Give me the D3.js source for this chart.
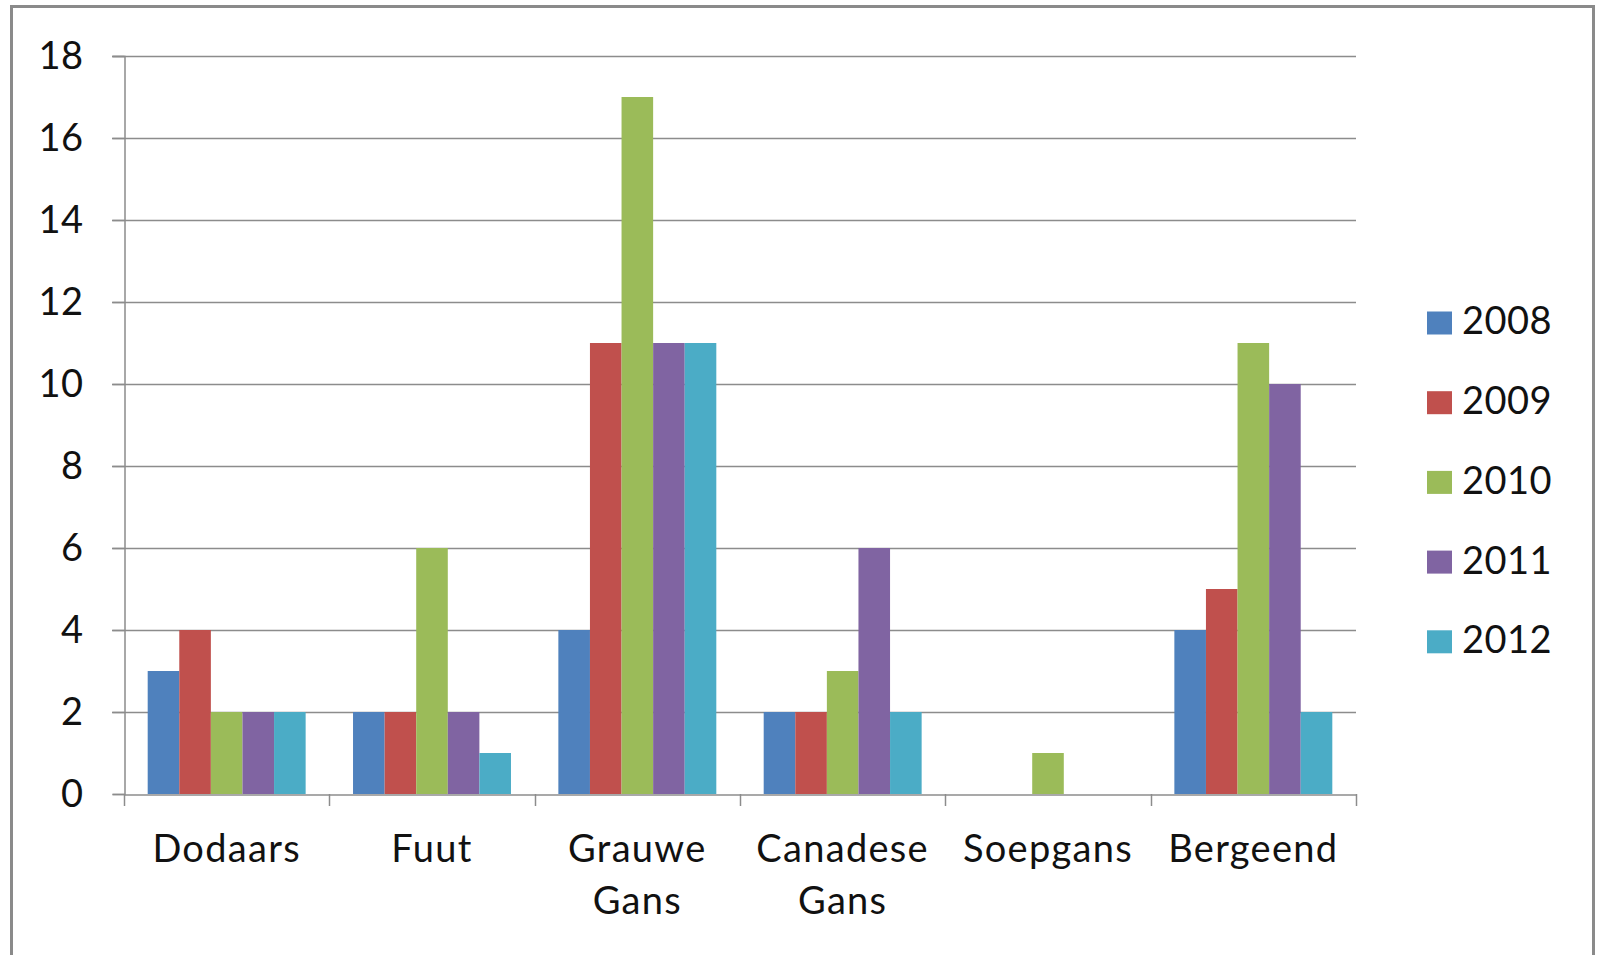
<!DOCTYPE html>
<html><head><meta charset="utf-8">
<script src="https://cdn.jsdelivr.net/npm/d3@7"></script>
<style>html,body{margin:0;padding:0;background:#fff;}svg{display:block;}</style>
</head><body>
<script>
const categories = ["Dodaars", "Fuut", "Grauwe Gans", "Canadese Gans", "Soepgans", "Bergeend"];
const seriesNames = ["2008", "2009", "2010", "2011", "2012"];
const v2008 = [3, 2, 4, 2, 0, 4];
const v2009 = [4, 2, 11, 2, 0, 5];
const v2010 = [2, 6, 17, 3, 1, 11];
const v2011 = [2, 2, 11, 6, 0, 10];
const v2012 = [2, 1, 11, 2, 0, 2];
const seriesValues = [v2008, v2009, v2010, v2011, v2012];
const colors = ["#4F81BD", "#C0504D", "#9BBB59", "#8064A2", "#4BACC6"];
const yTicks = [0, 2, 4, 6, 8, 10, 12, 14, 16, 18];

(function () {
const W = 1604, H = 955;
const font = "Lato, 'Open Sans', sans-serif";
const svg = d3.select("body").append("svg").attr("width", W).attr("height", H);
svg.append("rect").attr("width", W).attr("height", H).attr("fill", "#fff");
svg.append("rect").attr("x", 11.5).attr("y", 6.5).attr("width", 1582).attr("height", 1000)
  .attr("fill", "none").attr("stroke", "#8a8a8a").attr("stroke-width", 3);

const pLeft = 124, pRight = 1356, pTop = 56, pBottom = 794;
const x = d3.scaleBand().domain(categories).range([pLeft, pRight]).paddingInner(0).paddingOuter(0);
const y = d3.scaleLinear().domain([0, 18]).range([pBottom, pTop]);
const bw = x.bandwidth();
const barW = bw / 6.5;
const xs = d3.scaleBand().domain(seriesNames).range([0.75 * barW, bw - 0.75 * barW]).padding(0);

const gridColor = "#8c8c8c";
svg.append("g").selectAll("line").data(yTicks.filter(d => d > 0)).join("line")
  .attr("x1", pLeft - 12).attr("x2", pRight)
  .attr("y1", d => Math.round(y(d)) + 0.5).attr("y2", d => Math.round(y(d)) + 0.5)
  .attr("stroke", gridColor).attr("stroke-width", 1.5);

seriesNames.forEach((s, si) => {
  svg.append("g").selectAll("rect").data(categories).join("rect")
    .attr("x", c => x(c) + xs(s))
    .attr("width", xs.bandwidth())
    .attr("y", (c, i) => y(seriesValues[si][i]))
    .attr("height", (c, i) => y(0) - y(seriesValues[si][i]))
    .attr("fill", colors[si]);
});

const yAxis = d3.axisLeft(y).tickValues(yTicks).tickSize(12).tickPadding(29).tickFormat(d3.format("d"));
const gy = svg.append("g").attr("transform", `translate(${pLeft + 0.5},0)`).call(yAxis);
gy.select(".domain").attr("stroke", gridColor).attr("stroke-width", 1.5);
gy.selectAll(".tick line").attr("stroke", gridColor).attr("stroke-width", 1.5);
gy.selectAll(".tick text").attr("font-family", font).attr("font-size", 38).attr("letter-spacing", 0.5)
  .attr("fill", "#111").attr("dy", "0.33em");

const xAxis = d3.axisBottom(x).tickSize(0).tickFormat("");
const gx = svg.append("g").attr("transform", `translate(0,${Math.round(pBottom) + 0.5})`).call(xAxis);
gx.select(".domain").attr("stroke", gridColor).attr("stroke-width", 1.5);
gx.selectAll(".tick").remove();
const boundaries = categories.map(c => x(c)).concat([pRight]);
svg.append("g").selectAll("line").data(boundaries).join("line")
  .attr("x1", d => Math.round(d) + 0.5).attr("x2", d => Math.round(d) + 0.5)
  .attr("y1", pBottom).attr("y2", pBottom + 12)
  .attr("stroke", gridColor).attr("stroke-width", 1.5);

const lab = svg.append("g").selectAll("text").data(categories).join("text")
  .attr("x", c => x(c) + bw / 2).attr("y", 862)
  .attr("text-anchor", "middle").attr("font-family", font).attr("font-size", 38)
  .attr("letter-spacing", 1.3).attr("fill", "#111");
lab.each(function (c) {
  const parts = c.split(" ");
  d3.select(this).selectAll("tspan").data(parts).join("tspan")
    .attr("x", x(c) + bw / 2).attr("dy", (d, i) => i === 0 ? 0 : 52).text(d => d);
});

const lg = svg.append("g");
seriesNames.forEach((s, i) => {
  const cy = 323 + i * 79.7;
  lg.append("rect").attr("x", 1427).attr("y", cy - 11.5).attr("width", 25).attr("height", 23).attr("fill", colors[i]);
  lg.append("text").attr("x", 1462).attr("y", cy).attr("dy", "0.3em")
    .attr("font-family", font).attr("font-size", 38).attr("letter-spacing", 0.5)
    .attr("fill", "#111").text(s);
});
})();
</script>
</body></html>
